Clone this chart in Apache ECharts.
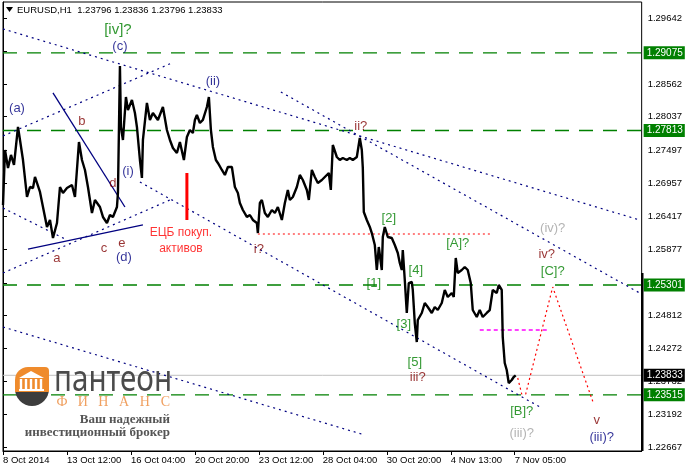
<!DOCTYPE html>
<html><head><meta charset="utf-8">
<script src="https://cdn.jsdelivr.net/npm/echarts@6/dist/echarts.min.js"></script>
<style>html,body{margin:0;padding:0;background:#fff}#c{width:685px;height:469px}</style>
</head><body><div id="c"></div><script>
// ---- data ----
const xTickBars = [0,64,128,192,256,320,384,448,512];
const xTickLabels = ["8 Oct 2014","13 Oct 12:00","16 Oct 04:00","20 Oct 20:00","23 Oct 12:00","28 Oct 04:00","30 Oct 20:00","4 Nov 13:00","7 Nov 05:00"];
const yTickLabels = [1.29642,1.28562,1.28037,1.27497,1.26957,1.26417,1.25877,1.24812,1.24272,1.23732,1.23192,1.22667];
const yTickMarks = [1.29642,1.29102,1.28562,1.28037,1.27497,1.26957,1.26417,1.25877,1.25337,1.24812,1.24272,1.23732,1.23192,1.22667];
const levelLines = [1.29075,1.27813,1.25301,1.23515];
const lastPrice = 1.23833;
const titleText = "EURUSD,H1  1.23796 1.23836 1.23796 1.23833";

// [hour bar, price]
const pricePath = [[0,1.26602],[2,1.27496],[5,1.27203],[8,1.27415],[11,1.27252],[15,1.27870],[17,1.27659],[20,1.27333],[24,1.26732],[27,1.26894],[30,1.26878],[32,1.27057],[37,1.26813],[40,1.26569],[44,1.26244],[47,1.26358],[50,1.26065],[54,1.26309],[57,1.26894],[60,1.26797],[64,1.26878],[69,1.26927],[72,1.26732],[76,1.27626],[79,1.27333],[82,1.27171],[85,1.26894],[89,1.26472],[92,1.26683],[97,1.26569],[100,1.26407],[104,1.26309],[107,1.26439],[110,1.26407],[114,1.26569],[115,1.26797],[117,1.28862],[118,1.27870],[120,1.27659],[123,1.28358],[125,1.28146],[129,1.28309],[132,1.28098],[134,1.27870],[137,1.27333],[139,1.27041],[140,1.27659],[144,1.28260],[147,1.27984],[150,1.28098],[155,1.27984],[160,1.28195],[164,1.27821],[167,1.27659],[170,1.27529],[174,1.27447],[177,1.27626],[181,1.27333],[184,1.27707],[187,1.27821],[190,1.27772],[192,1.27984],[194,1.28065],[197,1.27935],[200,1.27984],[204,1.28195],[206,1.28358],[208,1.27821],[210,1.27545],[213,1.27333],[215,1.27285],[219,1.27171],[222,1.27090],[225,1.27220],[229,1.27220],[232,1.26894],[235,1.26797],[237,1.26634],[240,1.26520],[244,1.26407],[247,1.26439],[250,1.26358],[254,1.26309],[255,1.26146],[257,1.26634],[259,1.26683],[262,1.26472],[265,1.26407],[269,1.26520],[272,1.26472],[275,1.26569],[279,1.26358],[282,1.26634],[285,1.26846],[287,1.26683],[290,1.26732],[294,1.26894],[297,1.27090],[300,1.27008],[304,1.26846],[306,1.26683],[309,1.27171],[312,1.27057],[315,1.26959],[319,1.27008],[322,1.27057],[326,1.27122],[328,1.26846],[330,1.27577],[334,1.27382],[337,1.27333],[340,1.27366],[344,1.27333],[347,1.27366],[350,1.27333],[354,1.27382],[357,1.27691],[359,1.27496],[360,1.27203],[361,1.26488],[364,1.26358],[367,1.26244],[369,1.26146],[372,1.25951],[374,1.25545],[376,1.25919],[379,1.25545],[380,1.26081],[382,1.26244],[385,1.26081],[389,1.26065],[392,1.25951],[395,1.25821],[397,1.25659],[399,1.25545],[400,1.25870],[402,1.25382],[404,1.24846],[406,1.25333],[409,1.25350],[410,1.25220],[412,1.24683],[414,1.24374],[415,1.24732],[419,1.24846],[422,1.25008],[425,1.24943],[429,1.24846],[432,1.24943],[435,1.24894],[439,1.25008],[442,1.25220],[445,1.25106],[449,1.25171],[451,1.25106],[453,1.25740],[455,1.25496],[459,1.25545],[462,1.25594],[465,1.25545],[468,1.25333],[470,1.24894],[474,1.24781],[477,1.24894],[480,1.24781],[484,1.24846],[487,1.24894],[490,1.25220],[494,1.25171],[496,1.25301],[499,1.25220],[500,1.24455],[501,1.24244],[502,1.24033],[504,1.23919],[506,1.23707],[509,1.23756],[511,1.23805],[513,1.23833]];

const dottedTrends = [
  [[0,1.29464],[637,1.26358]],
  [[0,1.27724],[169,1.28911]],
  [[0,1.25496],[167,1.26683]],
  [[0,1.26553],[64,1.26033]],
  [[137,1.26976],[539,1.23301]],
  [[0,1.24618],[362,1.22862]],
  [[278,1.28439],[637,1.25171]]
];
const solidTrends = [
  [[50,1.28423],[122,1.26569]],
  [[25,1.25886],[140,1.26277]]
];
const ecbMark = [[184,1.27122],[184,1.26358]];
const iLevel = [[255,1.26130],[490,1.26130]];
const bLevel = [[477,1.24569],[547,1.24569]];
const projection = [[515,1.23789],[519,1.23529],[523,1.23529],[550,1.25268],[591,1.23366]];

// [text, bar, price, colour key, font size]
const waveLabels = [
  ["[iv]?",115,1.29447,"g",15],["(c)",117,1.29187,"n",13],["(a)",14,1.28179,"n",13],
  ["b",79,1.27968,"r",13],["(i)",125,1.27155,"n",13],["d",110,1.26959,"r",13],
  ["e",119,1.25984,"r",13],["c",101,1.25903,"r",13],["a",54,1.25740,"r",13],
  ["(d)",121,1.25756,"n",13],["(ii)",210,1.28618,"n",13],
  ["ЕЦБ покуп.",178,1.26146,"R",12],["активов",178,1.25886,"R",12],
  ["ii?",358,1.27886,"r",13],["i?",256,1.25886,"r",13],
  ["[2]",386,1.26390,"g",13],["[1]",371,1.25333,"g",13],["[4]",413,1.25545,"g",13],
  ["[3]",401,1.24667,"g",13],["[5]",412,1.24049,"g",13],["iii?",415,1.23805,"r",13],
  ["[A]?",455,1.25984,"g",13],["(iv)?",550,1.26228,"x",13],["iv?",544,1.25805,"r",13],
  ["[C]?",550,1.25529,"g",13],["[B]?",519,1.23252,"g",13],["(iii)?",519,1.22894,"x",13],
  ["v",594,1.23106,"r",13],["(iii)?",599,1.22829,"n",13]
];

// ---- styling ----
const COL = {g:'#008000', n:'#000080', r:'#800000', R:'#ff0000', x:'#a0a0a0'};
const FONT = 'Liberation Sans';
const X_MIN = 0, X_MAX = 639;
const series = [];

// horizontal levels drawn as two-point lines through the axes, price box as end label
function hLine(v, color, type, width, boxColor, z){
  return {type:'line', data:[[X_MIN,v],[X_MAX,v]], showSymbol:false, silent:true, z:z,
    lineStyle:{color:color, width:width, type:type},
    endLabel:{show:true, formatter:v.toFixed(5), backgroundColor:boxColor, color:'#fff',
      fontFamily:FONT, fontSize:10, padding:[2,2,1,3], distance:2}};
}
series.push(hLine(lastPrice, '#c0c0c0', 'solid', 1, '#000', 2));
levelLines.forEach(v => series.push(hLine(v, '#008000', [14,10], 1.3, '#008000', 2)));

series.push({
  type:'line', data: pricePath, showSymbol:false, z:5,
  lineStyle:{color:'#000', width:2.4}, silent:true
});
dottedTrends.forEach(t => series.push({type:'line', data:t, showSymbol:false, z:3, silent:true,
  lineStyle:{color:'#000080', width:1.2, type:[2,4]}}));
solidTrends.forEach(t => series.push({type:'line', data:t, showSymbol:false, z:3, silent:true,
  lineStyle:{color:'#000080', width:1.3}}));
series.push({type:'line', data:ecbMark, showSymbol:false, z:3, lineStyle:{color:'#ff0000', width:3}});
series.push({type:'line', data:iLevel, showSymbol:false, z:3, lineStyle:{color:'#ff0000', width:1.2, type:[2,3]}});
series.push({type:'line', data:bLevel, showSymbol:false, z:3, lineStyle:{color:'#ff00ff', width:1.5, type:[4,3]}});
series.push({type:'line', data:projection, showSymbol:false, z:3, lineStyle:{color:'#ff0000', width:1.2, type:[2,3]}});

series.push({
  type:'scatter', symbolSize:1, itemStyle:{color:'rgba(0,0,0,0)'}, z:10, silent:true,
  data: waveLabels.map(w => ({value:[w[1],w[2]],
    label:{show:true, position:'inside', formatter:w[0], color:COL[w[3]], fontSize:w[4], fontFamily:FONT}}))
});

// ---- logo + header graphics ----
const graphic = [
  {type:'polygon', shape:{points:[[6,7],[13,7],[9.5,12]]}, style:{fill:'#000'}, z:20},
  {type:'text', x:17, y:10, style:{text:titleText, font:'9.5px '+FONT, fill:'#000', verticalAlign:'middle'}, z:20},
  {type:'rect', shape:{x:641, y:273, width:2.5, height:178}, style:{fill:'#000'}, z:20},
  {type:'circle', shape:{cx:32, cy:389, r:17}, style:{fill:'#3d3d3d'}, z:20},
  {type:'rect', shape:{x:15, y:367, width:34, height:25, r:[13,4,0,0]}, style:{fill:'#ef8b2c'}, z:21},
  {type:'polygon', shape:{points:[[19,378],[31,371],[44,378]]}, style:{fill:'#fff'}, z:22},
  {type:'rect', shape:{x:19, y:389, width:25, height:2}, style:{fill:'#fff'}, z:22},
  {type:'text', x:54, y:380, scaleX:0.8, originX:0, originY:0,
    style:{text:'пантеон', font:'37px "Noto Sans"', fill:'#4b4b4b', verticalAlign:'middle'}, z:22},
  {type:'text', x:170, y:420, style:{text:'Ваш надежный', font:'bold 13px "Liberation Serif"', fill:'#555', align:'right', verticalAlign:'middle'}, z:22},
  {type:'text', x:170, y:433, style:{text:'инвестиционный брокер', font:'bold 13px "Liberation Serif"', fill:'#555', align:'right', verticalAlign:'middle'}, z:22}
];
[21,26,31,36,41].forEach(cx => graphic.push({type:'rect', shape:{x:cx-1.2, y:379, width:2.4, height:10}, style:{fill:'#fff'}, z:22}));
'ФИНАНС'.split('').forEach((ch,i) => graphic.push({type:'text', x:62+i*20.7, y:402,
  style:{text:ch, font:'14px "Liberation Serif"', fill:'#f0a060', align:'center', verticalAlign:'middle'}, z:22}));

const chart = echarts.init(document.getElementById('c'), null, {renderer:'canvas'});
chart.setOption({
  animation:false,
  backgroundColor:'#fff',
  grid:{left:3, right:43, top:2, bottom:18, show:true, borderColor:'#000', borderWidth:1, backgroundColor:'#fff'},
  xAxis:{type:'value', min:X_MIN, max:X_MAX,
    axisLine:{show:true, lineStyle:{color:'#000'}},
    axisTick:{show:true, customValues:xTickBars, length:4, lineStyle:{color:'#000'}},
    axisLabel:{customValues:xTickBars, formatter:v => xTickLabels[xTickBars.indexOf(v)] || '',
      align:'left', margin:4, color:'#000', fontFamily:FONT, fontSize:9.5},
    splitLine:{show:false}},
  yAxis:{type:'value', position:'right', min:1.22602, max:1.29902,
    axisLine:{show:true, lineStyle:{color:'#000'}},
    axisTick:{show:true, customValues:yTickMarks, length:4, lineStyle:{color:'#000'}},
    axisLabel:{customValues:yTickLabels, formatter:v => v.toFixed(5), margin:6,
      color:'#000', fontFamily:FONT, fontSize:9.5},
    splitLine:{show:false}},
  series: series,
  graphic: graphic
});
</script></body></html>
